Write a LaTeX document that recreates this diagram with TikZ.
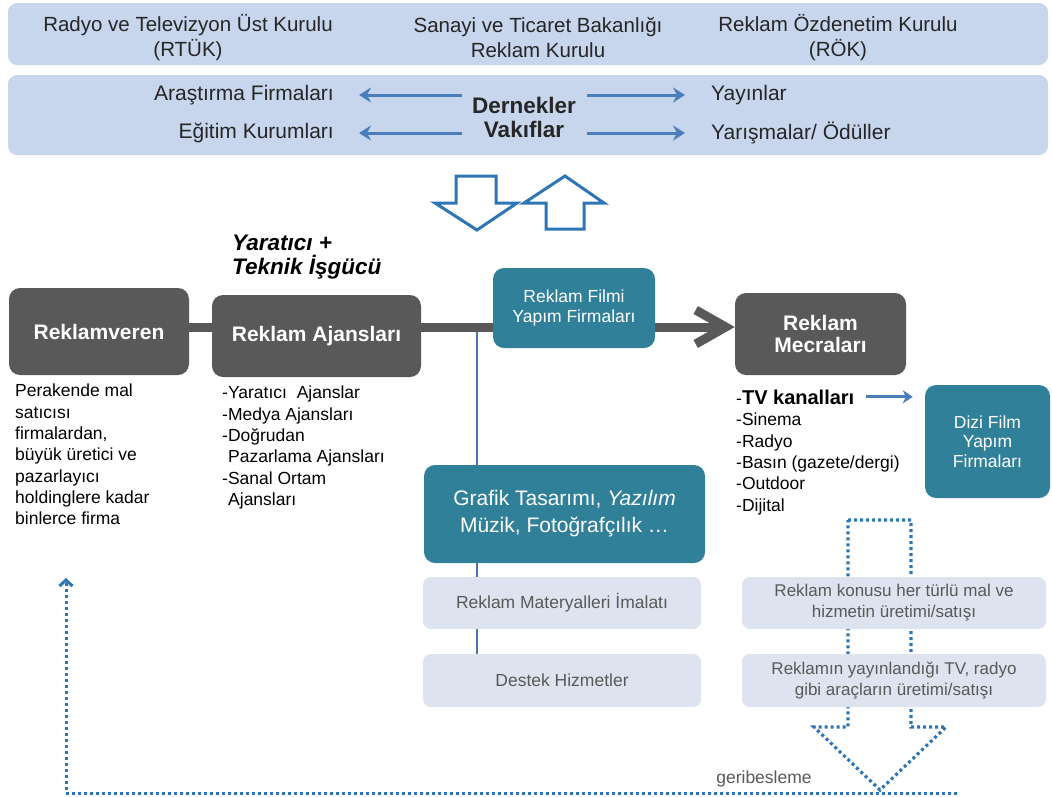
\documentclass[tikz,border=0pt]{standalone}
\usepackage{fontspec}
\setmainfont{Liberation Sans}
\usetikzlibrary{arrows.meta,backgrounds}
\definecolor{bandblue}{HTML}{C7D6EC}
\definecolor{lightbox}{HTML}{DDE4EF}
\definecolor{darkbox}{HTML}{595959}
\definecolor{tealbox}{HTML}{31809A}
\definecolor{arrowblue}{HTML}{4A7EBB}
\definecolor{hollowblue}{HTML}{2E75B6}
\definecolor{dotblue}{HTML}{2F74B5}
\definecolor{txt}{HTML}{262626}
\definecolor{graytxt}{HTML}{595959}
\definecolor{vlineblue}{HTML}{4F71A8}
\newcommand{\fs}[2]{\fontsize{#1}{#2}\selectfont}
\begin{document}
\begin{tikzpicture}[x=1pt,y=-1pt,
 band/.style={fill=bandblue, rounded corners=9pt, draw=none, inner sep=0pt},
 dbox/.style={fill=darkbox, rounded corners=11pt, text=white, font=\fs{21}{22}\bfseries, align=center, inner sep=0pt},
 tbox/.style={fill=tealbox, rounded corners=11pt, text=white, align=center, inner sep=0pt},
 lbox/.style={fill=lightbox, rounded corners=8pt, text=graytxt, align=center, inner sep=0pt, font=\fs{17.5}{21}},
 bandtxt/.style={text=txt, align=center, inner sep=0pt, font=\fs{20.5}{25}},
 sidetxt/.style={text=txt, inner sep=0pt, font=\fs{21}{25}},
 listtxt/.style={text=black, align=left, inner sep=0pt, font=\fs{17.5}{21.3}},
 barrow/.style={draw=arrowblue, line width=3pt, -{Stealth[length=12pt,width=15pt,inset=4pt]}},
 mainline/.style={draw=darkbox, line width=9pt},
 vline/.style={draw=vlineblue, line width=2.5pt},
 hollow/.style={draw=hollowblue, line width=3pt, fill=white, line join=miter},
 bigdots/.style={draw=hollowblue, line width=3.2pt, dash pattern=on 3pt off 3pt},
 fbline/.style={draw=dotblue, line width=3pt, dash pattern=on 3pt off 3pt, -{Straight Barb[length=6pt,width=13pt]}},
]
\useasboundingbox (0,0) rectangle (1052,796);

% top bands
\node[band, minimum width=1040pt, minimum height=62pt] (b1) at (528,34) {};
\node[band, minimum width=1040pt, minimum height=80pt] (b2) at (528,115) {};
\node[bandtxt] (rtuk) at (188,37.5) {Radyo ve Televizyon Üst Kurulu\\(RTÜK)};
\node[bandtxt] (stb) at (538,37.5) {Sanayi ve Ticaret Bakanlığı\\Reklam Kurulu};
\node[bandtxt] (rok) at (838,37.5) {Reklam Özdenetim Kurulu\\(RÖK)};

\node[sidetxt, anchor=east] (ar) at (334,95) {Araştırma Firmaları};
\node[sidetxt, anchor=east] (eg) at (334,133) {Eğitim Kurumları};
\node[sidetxt, anchor=west] (ya) at (711,95) {Yayınlar};
\node[sidetxt, anchor=west] (yr) at (711,133) {Yarışmalar/ Ödüller};
\node[text=txt, align=center, inner sep=0pt, font=\fs{22.5}{24}\bfseries] (dv) at (524,117) {Dernekler\\Vakıflar};
\draw[barrow, shorten <=10pt, shorten >=25pt] (dv.west |- ar.east) -- (ar.east);
\draw[barrow, shorten <=10pt, shorten >=25pt] (dv.west |- eg.east) -- (eg.east);
\draw[barrow, shorten <=11pt, shorten >=26pt] (dv.east |- ya.west) -- (ya.west);
\draw[barrow, shorten <=11pt, shorten >=26pt] (dv.east |- yr.west) -- (yr.west);

% hollow block arrows
\draw[hollow] (456,176) -- (496,176) -- (496,203) -- (517,203) -- (477,230) -- (435,203) -- (456,203) -- cycle;
\draw[hollow] (565,176) -- (604,203) -- (584,203) -- (584,229) -- (546,229) -- (546,203) -- (524,203) -- cycle;

\node[anchor=north west, inner sep=0pt, align=left, font=\fs{22.5}{24}\bfseries\itshape, text=black] (yt) at (232,235) {Yaratıcı +\\Teknik İşgücü};

% main boxes
\node[dbox, minimum width=180pt, minimum height=87pt] (rv) at (99,331.5) {Reklamveren};
\node[dbox, minimum width=209pt, minimum height=82pt] (ag) at (316.5,336) {Reklam Ajansları};
\node[tbox, minimum width=162pt, minimum height=80pt, font=\fs{17.5}{20}] (film) at (574,308) {Reklam Filmi\\Yapım Firmaları};
\node[dbox, minimum width=171pt, minimum height=82pt] (mec) at (820.5,334) {Reklam\\Mecraları};
\node[tbox, minimum width=125pt, minimum height=113pt, font=\fs{17.5}{19.5}] (dizi) at (987.5,441.5) {Dizi Film\\Yapım\\Firmaları};
\node[tbox, minimum width=281pt, minimum height=98pt, font=\fs{21}{27}] (gr) at (564.5,514) {Grafik Tasarımı, \textit{Yazılım}\\Müzik, Fotoğrafçılık …};
\node[lbox, minimum width=278pt, minimum height=52pt] (mat) at (562,603) {Reklam Materyalleri İmalatı};
\node[lbox, minimum width=278pt, minimum height=53pt] (des) at (562,680.5) {Destek Hizmetler};
\node[lbox, minimum width=304pt, minimum height=52pt, font=\fs{17}{21}] (r1) at (894,603) {Reklam konusu her türlü mal ve\\hizmetin üretimi/satışı};
\node[lbox, minimum width=304pt, minimum height=53pt, font=\fs{17}{21}] (r2) at (894,680.5) {Reklamın yayınlandığı TV, radyo\\gibi araçların üretimi/satışı};

% descriptions
\node[listtxt, anchor=north west] (rvd) at (15,384) {Perakende mal\\satıcısı\\firmalardan,\\büyük üretici ve\\pazarlayıcı\\holdinglere kadar\\binlerce firma};
\node[listtxt, anchor=north west] (agd) at (222,386) {-Yaratıcı\ \ Ajanslar\\-Medya Ajansları\\-Doğrudan\\\hspace*{6pt}Pazarlama Ajansları\\-Sanal Ortam\\\hspace*{6pt}Ajansları};
\node[anchor=base west, inner sep=0pt, text=black] (tv) at (736,404) {\fs{17.5}{21}-\fs{20}{22}\bfseries TV kanalları};
\node[listtxt, anchor=north west] (med) at (736,413) {-Sinema\\-Radyo\\-Basın (gazete/dergi)\\-Outdoor\\-Dijital};
\draw[barrow, -{Stealth[length=10pt,width=13pt,inset=3pt]}, shorten <=11pt, shorten >=12pt] (tv.east) -- (tv.east -| dizi.west);

\node[text=graytxt, font=\fs{17.5}{21}, inner sep=0pt] (fb) at (764,779) {geribesleme};

% connectors behind boxes
\coordinate (my) at (0,327);
\coordinate (junc) at (477,327);
\begin{pgfonlayer}{background}
\draw[vline] (junc) -- (junc |- des.north);
\draw[mainline, -{Straight Barb[length=30pt,width=34pt]}] (rv.center |- my) -- (mec.west |- my);
\draw[bigdots] (848,520) -- (911,520) -- (911,727) -- (946,727) -- (880,790) -- (814,727) -- (848,727) -- cycle;
\end{pgfonlayer}

% feedback
\coordinate (fbR) at (957,793);
\coordinate (fbL) at (66,793);
\coordinate (fbT) at (66,578);
\draw[fbline] (fbR) -- (fbL) -- (fbT);
\end{tikzpicture}
\end{document}
